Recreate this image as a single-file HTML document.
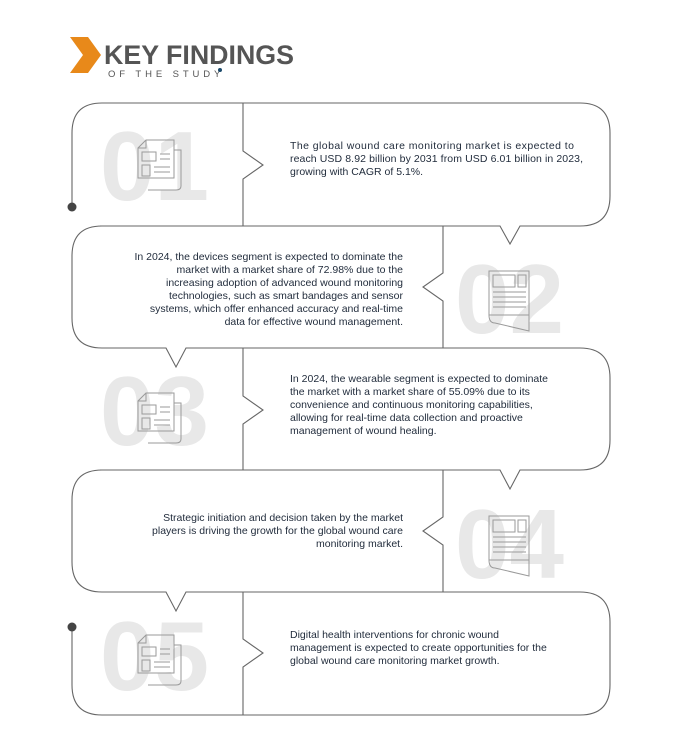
<!DOCTYPE html>
<html><head><meta charset="utf-8"><style>
html,body{margin:0;padding:0;background:#fff;}
svg{display:block;font-family:"Liberation Sans",sans-serif;}
.t{font-size:10.5px;fill:#1f2a3a;}
.n{font-size:98px;font-weight:bold;fill:#e8e8e8;}
</style></head><body>
<svg width="690" height="745" viewBox="0 0 690 745">
<defs>
<g id="ic" fill="none" stroke="#9a9a9a" stroke-width="1">
<path d="M8 0 H36 V38 H0 V8 Z M8 0 V8 H0"/>
<rect x="4" y="12" width="14" height="9"/><line x1="22" y1="14" x2="32" y2="14"/><line x1="22" y1="19" x2="32" y2="19"/>
<rect x="4" y="25" width="8" height="11"/><line x1="16" y1="27" x2="32" y2="27"/><line x1="16" y1="32" x2="32" y2="32"/>
<path d="M36 10 H43 V46 Q43 50 38 50 H10"/>
</g>
<g id="ic2" fill="none" stroke="#9a9a9a" stroke-width="1">
<rect x="0" y="0" width="40" height="44"/>
<rect x="4" y="4" width="22" height="12"/><rect x="29" y="4" width="8" height="12"/>
<line x1="4" y1="21" x2="37" y2="21"/><line x1="4" y1="26" x2="37" y2="26"/><line x1="4" y1="31" x2="37" y2="31"/><line x1="4" y1="36" x2="37" y2="36"/>
<path d="M0 44 Q0 52 6 52 L40 60 V44"/>
</g>
</defs>
<polygon points="70,37 88,37 101,55 88,73 70,73 83,55" fill="#e8891a"/>
<text x="104" y="64" font-size="27" font-weight="bold" fill="#555" textLength="190" lengthAdjust="spacingAndGlyphs">KEY FINDINGS</text>
<text x="108" y="77" font-size="9.5" fill="#555" letter-spacing="3.9">OF THE STUDY</text>
<circle cx="220" cy="70" r="2" fill="#1b4a6b"/>

<text class="n" x="100" y="200">01</text>
<text class="n" x="455" y="333">02</text>
<text class="n" x="100" y="445">03</text>
<text class="n" x="455" y="578">04</text>
<text class="n" x="100" y="690">05</text>
<use href="#ic" x="138" y="140"/>
<use href="#ic2" x="489" y="271"/>
<use href="#ic" x="138" y="393"/>
<use href="#ic2" x="489" y="516"/>
<use href="#ic" x="138" y="635"/>

<g fill="none" stroke="#666" stroke-width="1.1">
<path d="M72 207 V133 Q72 103 102 103 H580 Q610 103 610 133 V196 Q610 226 580 226 H520 L510 244 L500 226 H100"/>
<path d="M243 103 V151 L263 165 L243 179 V226"/>
<path d="M102 226 Q72 226 72 256 V318 Q72 348 102 348 H166 L176 367 L186 348 H580"/>
<path d="M443 226 V273 L423 287 L443 301 V348"/>
<path d="M580 348 Q610 348 610 378 V440 Q610 470 580 470 H520 L510 489 L500 470 H100"/>
<path d="M243 348 V396 L263 410 L243 424 V470"/>
<path d="M102 470 Q72 470 72 500 V562 Q72 592 102 592 H166 L176 611 L186 592 H580"/>
<path d="M443 470 V517 L423 531 L443 545 V592"/>
<path d="M580 592 Q610 592 610 622 V685 Q610 715 580 715 H102 Q72 715 72 685 V627"/>
<path d="M243 592 V639 L263 653 L243 667 V715"/>
</g>
<circle cx="72" cy="207" r="4.5" fill="#444"/>
<circle cx="72" cy="627" r="4.5" fill="#444"/>

<g class="t">
<text x="290" y="149" textLength="284">The global wound care monitoring market is expected to</text>
<text x="290" y="162" textLength="293">reach USD 8.92 billion by 2031 from USD 6.01 billion in 2023,</text>
<text x="290" y="175">growing with CAGR of 5.1%.</text>
</g>
<g class="t" text-anchor="end">
<text x="403" y="260">In 2024, the devices segment is expected to dominate the</text>
<text x="403" y="273">market with a market share of 72.98% due to the</text>
<text x="403" y="286">increasing adoption of advanced wound monitoring</text>
<text x="403" y="299">technologies, such as smart bandages and sensor</text>
<text x="403" y="312">systems, which offer enhanced accuracy and real-time</text>
<text x="403" y="325">data for effective wound management.</text>
</g>
<g class="t">
<text x="290" y="382">In 2024, the wearable segment is expected to dominate</text>
<text x="290" y="395">the market with a market share of 55.09% due to its</text>
<text x="290" y="408">convenience and continuous monitoring capabilities,</text>
<text x="290" y="421">allowing for real-time data collection and proactive</text>
<text x="290" y="434">management of wound healing.</text>
</g>
<g class="t" text-anchor="end">
<text x="403" y="521">Strategic initiation and decision taken by the market</text>
<text x="403" y="534">players is driving the growth for the global wound care</text>
<text x="403" y="547">monitoring market.</text>
</g>
<g class="t">
<text x="290" y="638">Digital health interventions for chronic wound</text>
<text x="290" y="651">management is expected to create opportunities for the</text>
<text x="290" y="664">global wound care monitoring market growth.</text>
</g>
</svg>
</body></html>
